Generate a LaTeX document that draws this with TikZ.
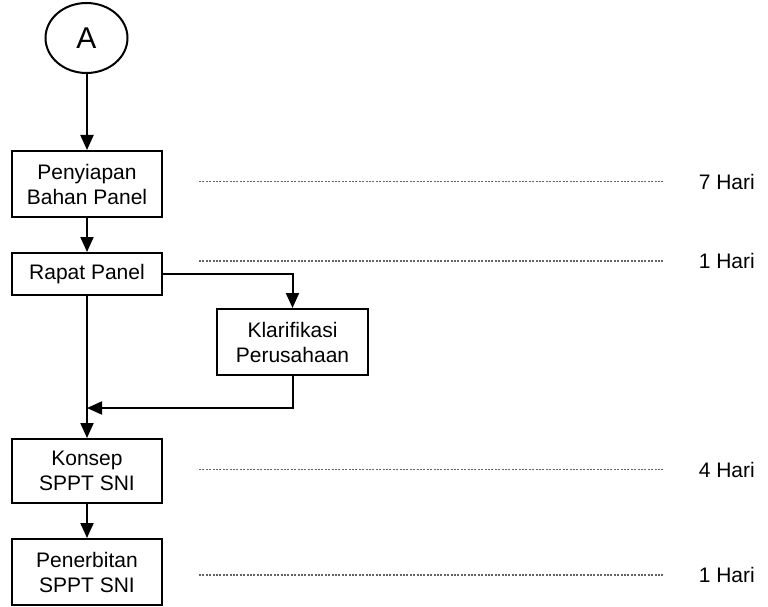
\documentclass[tikz,border=0pt]{standalone}
\usepackage{fontspec}
\setmainfont{Liberation Sans}
\usetikzlibrary{shapes.geometric,arrows.meta}
\definecolor{dotgray}{RGB}{100,100,100}
\begin{document}
\begin{tikzpicture}[x=1pt,y=-1pt,
  every node/.style={font=\fontsize{21}{25}\selectfont},
  procbox/.style={draw,line width=2pt,align=center,inner sep=0pt,minimum width=150pt},
  conn/.style={line width=2pt,-{Triangle[width=13pt,length=15pt]}},
  dotline/.style={draw=dotgray,line width=1.2pt,dash pattern=on 2pt off 1.4pt},
  daytext/.style={anchor=east,inner sep=0pt}]
\useasboundingbox (0,0) rectangle (768,607);
\node[draw,ellipse,line width=2pt,minimum width=82pt,minimum height=70pt,inner sep=0pt,font=\fontsize{30}{32}\selectfont] (A) at (86.5,38) {A};
\node[procbox,minimum height=66pt] (p1) at (87,184) {Penyiapan\\Bahan Panel};
\node[procbox,minimum height=42pt] (p2) at (87,274) {Rapat Panel};
\node[procbox,minimum width=151pt,minimum height=66pt] (k) at (292.5,342) {Klarifikasi\\Perusahaan};
\node[procbox,minimum height=64pt] (p3) at (87,471) {Konsep\\SPPT SNI};
\node[procbox,minimum height=66pt] (p4) at (87,572) {Penerbitan\\SPPT SNI};
\coordinate (merge) at (87,408);
\draw[conn] (A.south -| p1.north) -- (p1.north);
\draw[conn] (p1) -- (p2);
\draw[conn] (p2.east) -| (k.north);
\draw[conn] (k.south) |- (merge);
\draw[conn] (p2) -- (p3);
\draw[conn] (p3) -- (p4);
% durations
\node[daytext] (d1) at (755,181.5) {7 Hari};
\node[daytext] (d2) at (755,261) {1 Hari};
\node[daytext] (d3) at (755,469.5) {4 Hari};
\node[daytext] (d4) at (755,575) {1 Hari};
\foreach \n in {1,2,3,4}{
  \coordinate (s\n) at (199,0 |- d\n.west);
  \coordinate (e\n) at (663,0 |- d\n.west);
  \draw[dotline] (s\n) -- (e\n);
}
\end{tikzpicture}
\end{document}
